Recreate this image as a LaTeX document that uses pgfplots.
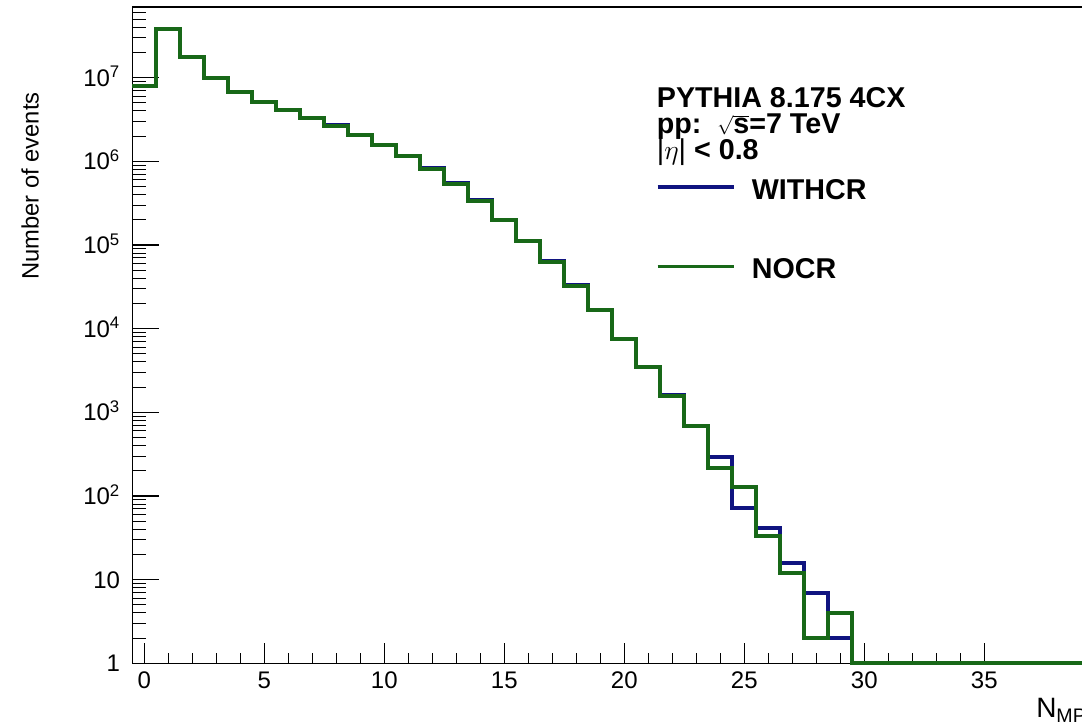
\documentclass[border=0pt]{standalone}
\usepackage{fontspec}
\setmainfont{Liberation Sans}
\usepackage{pgfplots}
\pgfplotsset{compat=1.18}
\definecolor{crblue}{RGB}{16,20,128}
\definecolor{crgreen}{RGB}{24,104,24}

\begin{document}
\begin{tikzpicture}
\useasboundingbox (-99.2pt,-47.8pt) rectangle (712.3pt,497.5pt);
\clip (-99.2pt,-47.8pt) rectangle (712.3pt,497.5pt);
\begin{axis}[
  scale only axis,
  width=720pt, height=492.2pt,
  xmin=-0.5, xmax=39.5,
  ymode=log, ymin=1, ymax=6.98e7,
  clip=false,
  axis line style={line width=1pt},
  tick align=inside,
  xtick pos=left, ytick pos=left,
  xtick={0,5,...,35},
  minor x tick num=4,
  ytick={1,10,100,1000,1e4,1e5,1e6,1e7},
  yticklabels={1,10,10\textsuperscript{2},10\textsuperscript{3},10\textsuperscript{4},10\textsuperscript{5},10\textsuperscript{6},10\textsuperscript{7}},
  minor ytick={2,3,4,5,6,7,8,9,
    20,30,40,50,60,70,80,90,
    200,300,400,500,600,700,800,900,
    2e3,3e3,4e3,5e3,6e3,7e3,8e3,9e3,
    2e4,3e4,4e4,5e4,6e4,7e4,8e4,9e4,
    2e5,3e5,4e5,5e5,6e5,7e5,8e5,9e5,
    2e6,3e6,4e6,5e6,6e6,7e6,8e6,9e6,
    2e7,3e7,4e7,5e7,6e7},
  major tick length=20pt, minor tick length=10.5pt,
  every tick/.style={black, line width=0.8pt},
  xtick style={/pgfplots/major tick length=15pt, /pgfplots/minor tick length=7.5pt},
  /pgf/number format/assume math mode=true,
  ticklabel style={font=\fontsize{18}{18}\selectfont},
  xticklabel style={inner sep=0pt, anchor=north, yshift=-6.3pt},
  yticklabel style={inner sep=0pt, anchor=base east, xshift=-9pt, yshift=-6.3pt},
  ylabel={Number of events},
  ylabel style={at={(axis description cs:-0.1065,0.7273)}, anchor=center, font=\fontsize{17.8}{17.8}\selectfont},
  xlabel={N\textsubscript{MPI}},
  xlabel style={at={(axis description cs:1,0)}, anchor=base east, inner sep=0pt, yshift=-41pt, font=\fontsize{21}{21}\selectfont},
  legend style={at={(axis description cs:0.5456,0.7379)}, anchor=north west, draw=none, fill=none,
    inner sep=0pt, outer sep=0pt, row sep=44.5pt, column sep=12.5pt,
    font=\fontsize{21.5}{21.5}\selectfont\bfseries,
    nodes={inner sep=0pt, text height=15pt, text depth=0pt}},
  legend cell align=left,
  legend image code/.code={\draw[#1, line width=2.4pt] (0pt,1.5pt) -- (57pt,1.5pt);},
]
\addplot[const plot, no markers, color=crblue, line width=3pt, line join=miter] coordinates {
(-0.5,7.9e6) (0.5,3.78e7) (1.5,1.75e7) (2.5,9.8e6) (3.5,6.7e6) (4.5,5.15e6)
(5.5,4.1e6) (6.5,3.27e6) (7.5,2.74e6) (8.5,2.07e6) (9.5,1.56e6) (10.5,1.17e6)
(11.5,8.3e5) (12.5,5.5e5) (13.5,3.45e5) (14.5,2.0e5) (15.5,1.13e5) (16.5,6.4e4)
(17.5,3.3e4) (18.5,1.68e4) (19.5,7.6e3) (20.5,3.5e3) (21.5,1.6e3) (22.5,690)
(23.5,290) (24.5,71) (25.5,42) (26.5,16) (27.5,7) (28.5,2) (29.5,1) (39.5,1)};
\addlegendentry{WITHCR}
\addplot[const plot, no markers, color=crgreen, line width=3pt, line join=miter] coordinates {
(-0.5,7.9e6) (0.5,3.78e7) (1.5,1.75e7) (2.5,9.8e6) (3.5,6.7e6) (4.5,5.15e6)
(5.5,4.1e6) (6.5,3.27e6) (7.5,2.64e6) (8.5,2.05e6) (9.5,1.55e6) (10.5,1.16e6)
(11.5,8.1e5) (12.5,5.3e5) (13.5,3.35e5) (14.5,1.99e5) (15.5,1.12e5) (16.5,6.25e4)
(17.5,3.26e4) (18.5,1.67e4) (19.5,7.46e3) (20.5,3.5e3) (21.5,1.57e3) (22.5,686)
(23.5,214) (24.5,129) (25.5,33) (26.5,12) (27.5,2) (28.5,4) (29.5,1) (39.5,1)};
\addlegendentry{NOCR}
\end{axis}
\begin{scope}[every node/.style={anchor=base west, inner sep=0pt, font=\fontsize{21.5}{21.5}\selectfont\bfseries}]
\node at (393.3pt,416.7pt) {PYTHIA 8.175 4CX};
\node at (393.3pt,397pt) {pp:\ \ \raisebox{0pt}[12pt][0pt]{$\scriptstyle\sqrt{\mbox{\fontsize{21.5}{21.5}\selectfont\bfseries s}}$}=7 TeV};
\node at (393.3pt,377.5pt) {{\mdseries|}$\eta${\mdseries|} < 0.8};
\end{scope}
\end{tikzpicture}
\end{document}
